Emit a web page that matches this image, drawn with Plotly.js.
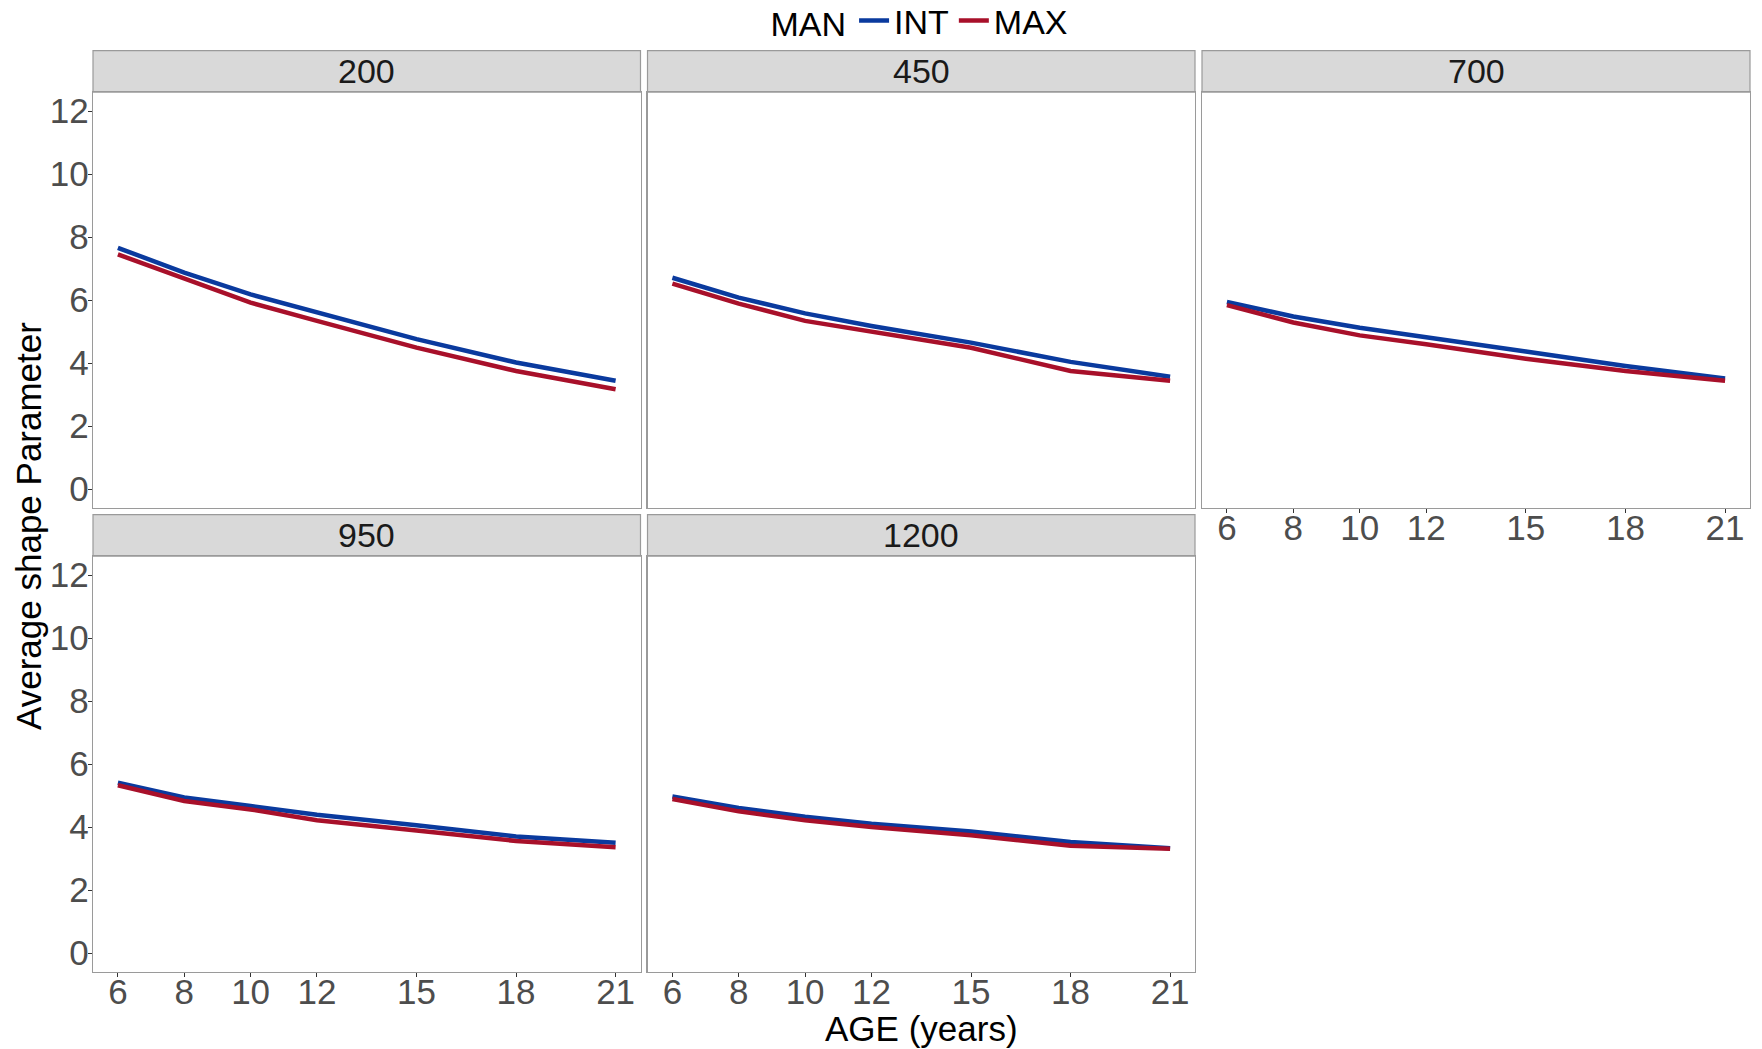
<!DOCTYPE html>
<html>
<head>
<meta charset="utf-8">
<script src="https://cdn.plot.ly/plotly-3.0.1.min.js"></script>
<style>html,body{margin:0;padding:0;background:#fff;}#chart{width:1762px;height:1049px;}</style>
</head>
<body>
<div id="chart"></div>
<script>
// ---- data ----
var ages = [6, 8, 10, 12, 15, 18, 21];
var panelLabels = ['200', '450', '700', '950', '1200'];
var seriesNames = ['INT', 'MAX'];
var legendTitle = 'MAN';
var xTickVals = [6, 8, 10, 12, 15, 18, 21];
var yTickVals = [0, 2, 4, 6, 8, 10, 12];

var int200 = [7.66, 6.87, 6.18, 5.60, 4.76, 4.02, 3.44];
var max200 = [7.45, 6.68, 5.92, 5.34, 4.49, 3.75, 3.17];
var int450 = [6.71, 6.08, 5.58, 5.18, 4.65, 4.04, 3.57];
var max450 = [6.52, 5.89, 5.34, 4.99, 4.49, 3.75, 3.44];
var int700 = [5.94, 5.48, 5.12, 4.83, 4.37, 3.91, 3.51];
var max700 = [5.84, 5.29, 4.88, 4.60, 4.14, 3.75, 3.44];
var int950 = [5.41, 4.94, 4.67, 4.39, 4.06, 3.70, 3.50];
var max950 = [5.33, 4.83, 4.56, 4.22, 3.89, 3.56, 3.36];
var int1200 = [4.97, 4.61, 4.33, 4.11, 3.86, 3.53, 3.33];
var max1200 = [4.89, 4.50, 4.22, 4.00, 3.74, 3.41, 3.31];

var intSeries = [int200, int450, int700, int950, int1200];
var maxSeries = [max200, max450, max700, max950, max1200];

// ---- layout geometry (paper fractions) ----
var W = 1762, H = 1049;
var colX = [[93, 640.5], [647.5, 1195], [1202, 1750]];
var rowY = [ // [plotTop, plotBottom, stripTop]
  [92.1, 508.1, 50.6],
  [556.2, 972, 514.6]
];
var cells = [[0,0],[0,1],[0,2],[1,0],[1,1]]; // row, col
var colors = {INT: '#0A3A9E', MAX: '#A8102A'};
var FONT = 'Liberation Sans, Arial, sans-serif';
var border = '#9A9A9A';

var traces = [];
var layout = {
  width: W, height: H,
  margin: {l: 0, r: 0, t: 0, b: 0, autoexpand: false},
  paper_bgcolor: '#ffffff',
  plot_bgcolor: '#ffffff',
  font: {family: FONT, color: '#000000'},
  showlegend: true,
  legend: {
    orientation: 'h',
    x: 921 / W, xanchor: 'center',
    y: 1 + 8 / H, yanchor: 'top',
    title: {text: legendTitle, side: 'left', font: {size: 34, color: '#000000'}},
    font: {size: 34, color: '#000000'},
    itemwidth: 30,
    tracegroupgap: 0,
    borderwidth: 0,
    bgcolor: 'rgba(0,0,0,0)'
  },
  shapes: [],
  annotations: []
};

cells.forEach(function (rc, i) {
  var r = rc[0], c = rc[1];
  var n = i === 0 ? '' : String(i + 1);
  var xa = 'xaxis' + n, ya = 'yaxis' + n;
  var showX = (r === 1) || (r === 0 && c === 2);
  var showY = (c === 0);
  layout[xa] = {
    domain: [colX[c][0] / W, colX[c][1] / W],
    anchor: 'y' + n,
    range: [5.25, 21.75],
    tickvals: xTickVals,
    ticktext: xTickVals.map(String),
    showticklabels: showX,
    ticks: showX ? 'outside' : '',
    ticklen: 4, tickwidth: 1, tickcolor: '#333333',
    ticklabelstandoff: -15,
    tickfont: {size: 35, color: '#4D4D4D', family: FONT},
    showgrid: false, zeroline: false,
    showline: true, mirror: true, linecolor: border, linewidth: 1.2,
    fixedrange: true
  };
  layout[ya] = {
    domain: [1 - rowY[r][1] / H, 1 - rowY[r][0] / H],
    anchor: 'x' + n,
    range: [-0.6, 12.6],
    tickvals: yTickVals,
    ticktext: yTickVals.map(String),
    showticklabels: showY,
    ticks: showY ? 'outside' : '',
    ticklen: 4, tickwidth: 1, tickcolor: '#333333',
    ticklabelstandoff: -8,
    tickfont: {size: 35, color: '#4D4D4D', family: FONT},
    showgrid: false, zeroline: false,
    showline: true, mirror: true, linecolor: border, linewidth: 1.2,
    fixedrange: true
  };
  // strip
  layout.shapes.push({
    type: 'rect', xref: 'paper', yref: 'paper',
    x0: colX[c][0] / W, x1: colX[c][1] / W,
    y0: 1 - rowY[r][0] / H, y1: 1 - rowY[r][2] / H,
    fillcolor: '#D9D9D9', line: {color: border, width: 1.2}, layer: 'below'
  });
  layout.annotations.push({
    xref: 'paper', yref: 'paper',
    x: (colX[c][0] + colX[c][1]) / 2 / W,
    y: 1 - (rowY[r][0] + rowY[r][2]) / 2 / H,
    xanchor: 'center', yanchor: 'middle',
    text: panelLabels[i], showarrow: false,
    font: {size: 34, color: '#1A1A1A', family: FONT}
  });
  [intSeries[i], maxSeries[i]].forEach(function (vals, k) {
    traces.push({
      type: 'scatter', mode: 'lines',
      x: ages, y: vals,
      xaxis: 'x' + n, yaxis: 'y' + n,
      name: seriesNames[k],
      legendgroup: seriesNames[k],
      showlegend: i === 0,
      line: {color: colors[seriesNames[k]], width: 4.5},
      hoverinfo: 'skip'
    });
  });
});

// axis titles
layout.annotations.push({
  xref: 'paper', yref: 'paper',
  x: 921 / W, y: 1 - 1028 / H,
  xanchor: 'center', yanchor: 'middle',
  text: 'AGE (years)', showarrow: false,
  font: {size: 35, color: '#000000', family: FONT}
});
layout.annotations.push({
  xref: 'paper', yref: 'paper',
  x: 28 / W, y: 1 - 526 / H,
  xanchor: 'center', yanchor: 'middle',
  textangle: -90,
  text: 'Average shape Parameter', showarrow: false,
  font: {size: 35, color: '#000000', family: FONT}
});

Plotly.newPlot('chart', traces, layout, {displayModeBar: false, staticPlot: true});
</script>
</body>
</html>
